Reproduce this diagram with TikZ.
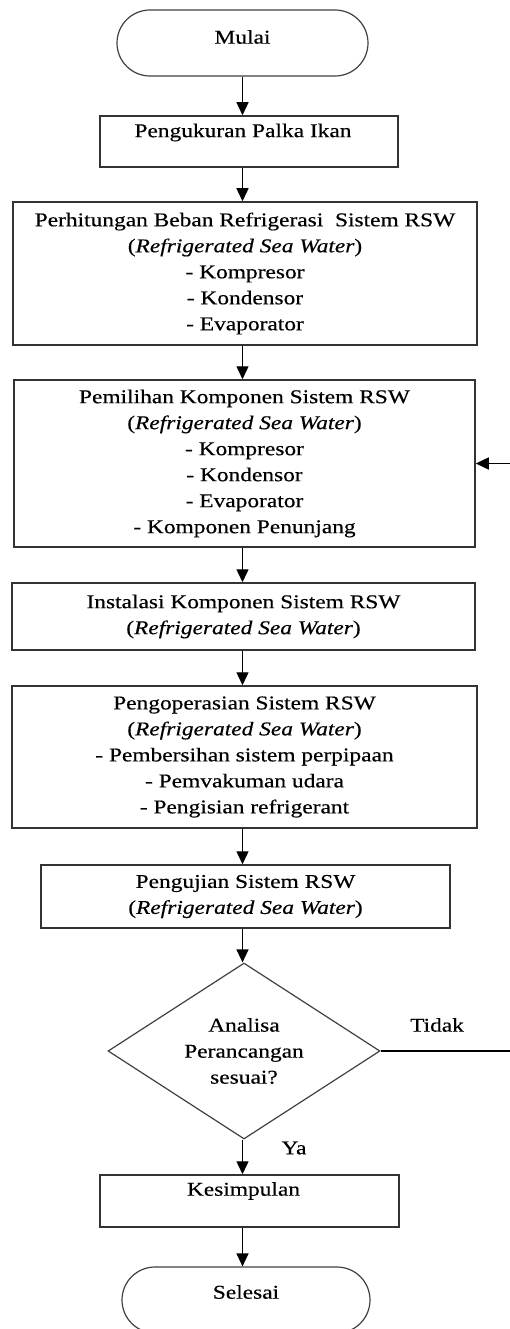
\documentclass[tikz,border=0pt]{standalone}
\usepackage{fontspec}
\setmainfont{Liberation Serif}[FakeStretch=1.2,FakeBold=0.4]
\usetikzlibrary{shapes.geometric,arrows.meta}
\newcommand{\lift}[2]{\raisebox{#1}[\height][\depth]{#2}}
\begin{document}
\begin{tikzpicture}[x=1pt,y=-1pt,
  every node/.style={font=\fontsize{19.5}{26}\selectfont, inner sep=0pt},
  box/.style={draw=black!80, line width=1.5pt, rectangle, align=center},
  term/.style={draw=black!75, line width=1.2pt, rounded corners=33pt, minimum height=66pt},
  dec/.style={draw=black!75, line width=1.2pt, diamond, shape aspect=1.55, minimum width=272pt, minimum height=176pt, align=center},
  arr/.style={draw=black, line width=1.4pt, -{Triangle[length=13pt,width=12pt]}}
]
\useasboundingbox (0,0) rectangle (509,1329);

\node[term, minimum width=251pt] (start) at (242.5,43) {\lift{6pt}{Mulai}};
\node[box, minimum width=298pt, minimum height=51pt] (b1) at (249,141.5) {\lift{9pt}{Pengukuran Palka Ikan}\hspace*{12pt}};
\node[box, minimum width=464pt, minimum height=143pt] (b2) at (245,273.5)
  {Perhitungan Beban Refrigerasi~ Sistem RSW\\(\textit{Refrigerated Sea Water})\\- Kompresor\\- Kondensor\\- Evaporator};
\node[box, minimum width=461pt, minimum height=167pt] (b3) at (244.5,463.5)
  {Pemilihan Komponen Sistem RSW\\(\textit{Refrigerated Sea Water})\\- Kompresor\\- Kondensor\\- Evaporator\\- Komponen Penunjang};
\node[box, minimum width=463pt, minimum height=67pt] (b4) at (243.5,616.5)
  {Instalasi Komponen Sistem RSW\\(\textit{Refrigerated Sea Water})};
\node[box, minimum width=465pt, minimum height=142pt] (b5) at (244.5,757)
  {Pengoperasian Sistem RSW\\(\textit{Refrigerated Sea Water})\\- Pembersihan sistem perpipaan\\- Pemvakuman udara\\- Pengisian refrigerant};
\node[box, minimum width=409pt, minimum height=63pt] (b6) at (245.5,896.5)
  {Pengujian Sistem RSW\\(\textit{Refrigerated Sea Water})};
\node[dec] (dec) at (244,1051) {Analisa\\Perancangan\\sesuai?};
\node[box, minimum width=299pt, minimum height=52pt] (kes) at (249.5,1201) {\lift{10pt}{Kesimpulan}\hspace*{12pt}};
\node[term, minimum width=248pt] (end) at (246,1300) {\lift{8pt}{Selesai}};

\node (tidak) at (437,1025) {Tidak};
\node (ya) at (294,1148) {Ya};

\draw[arr] (start.south -| start.center) -- (b1.north -| start.center);
\draw[arr] (b1.south -| start.center) -- (b2.north -| start.center);
\draw[arr] (b2.south -| start.center) -- (b3.north -| start.center);
\draw[arr] (b3.south -| start.center) -- (b4.north -| start.center);
\draw[arr] (b4.south -| start.center) -- (b5.north -| start.center);
\draw[arr] (b5.south -| start.center) -- (b6.north -| start.center);
\draw[arr] (b6.south -| start.center) -- (dec.north -| start.center);
\draw[arr] (dec.south -| start.center) -- (kes.north -| start.center);
\draw[arr] (kes.south -| start.center) -- (end.north -| start.center);
\draw[arr] (dec.east) -- ++(140,0) |- (b3.east);
\end{tikzpicture}
\end{document}
